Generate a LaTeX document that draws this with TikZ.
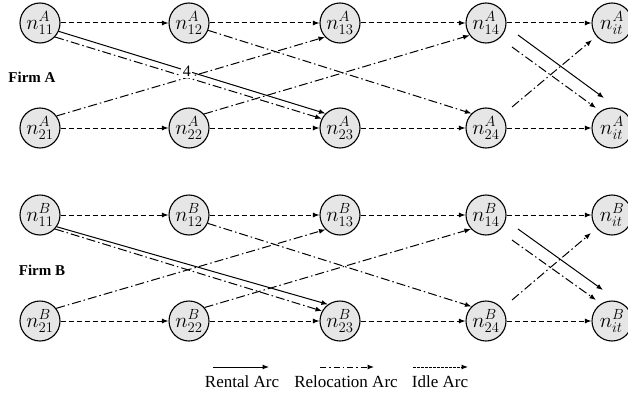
\RequirePackage{fix-cm}
\documentclass[tikz,border=0pt]{standalone}
\usepackage{fontspec}
\setmainfont{Liberation Serif}
\usetikzlibrary{arrows.meta}
\definecolor{nodegray}{HTML}{E6E6E6}
\tikzset{
  state/.style={circle, draw=black, line width=1.1pt, fill=nodegray, minimum size=40pt,
    inner sep=0pt, font=\fontsize{21}{24}\selectfont},
  arc/.style={line width=1pt, -{Latex[length=6.5pt,width=5pt]}},
  rental/.style={arc},
  relocation/.style={arc, dash pattern=on 9pt off 3pt on 1.5pt off 3pt},
  idle/.style={arc, dash pattern=on 5pt off 3pt},
  firm/.style={font=\fontsize{15}{17}\selectfont\bfseries},
  legendtext/.style={font=\fontsize{17}{19}\selectfont},
}
\begin{document}
\begin{tikzpicture}[x=1pt,y=-1pt]
\useasboundingbox (0,0) rectangle (628,396);

% ---------- Firm A ----------
\node[state] (a11) at (40,23)  {$n^A_{11}$};
\node[state] (a12) at (189,23) {$n^A_{12}$};
\node[state] (a13) at (340,23) {$n^A_{13}$};
\node[state] (a14) at (486,23) {$n^A_{14}$};
\node[state] (a1t) at (612,23) {$n^A_{it}$};
\node[state] (a21) at (40,128)  {$n^A_{21}$};
\node[state] (a22) at (189,128) {$n^A_{22}$};
\node[state] (a23) at (340,128) {$n^A_{23}$};
\node[state] (a24) at (486,128) {$n^A_{24}$};
\node[state] (a2t) at (612,128) {$n^A_{it}$};
\node[firm] (firmA) at (32,77) {Firm A};

\draw[idle] (a11) -- (a12);
\draw[idle] (a12) -- (a13);
\draw[idle] (a13) -- (a14);
\draw[idle] (a14) -- (a1t);
\draw[idle] (a21) -- (a22);
\draw[idle] (a22) -- (a23);
\draw[idle] (a23) -- (a24);
\draw[idle] (a24) -- (a2t);

\draw[relocation] (a11.-43) -- (a23.153);
\draw[relocation] (a12.-21) -- (a24.135);
\draw[relocation] (a21.36) -- (a13.-137);
\draw[relocation] (a22.43) -- (a14.-143);
\draw[rental] (a11.-24) -- node[pos=0.48, fill=white, inner sep=1.5pt, font=\fontsize{16}{18}\selectfont] (four) {4} (a23.135);

\coordinate (aRs) at (518,35);  \coordinate (aRe) at (604,98);
\coordinate (aDs) at (512,47);  \coordinate (aDe) at (596,108);
\coordinate (aUs) at (512,107); \coordinate (aUe) at (592,40);
\draw[rental] (aRs) -- (aRe);
\draw[relocation] (aDs) -- (aDe);
\draw[relocation] (aUs) -- (aUe);

% ---------- Firm B ----------
\node[state] (b11) at (40,215)  {$n^B_{11}$};
\node[state] (b12) at (189,215) {$n^B_{12}$};
\node[state] (b13) at (340,215) {$n^B_{13}$};
\node[state] (b14) at (486,215) {$n^B_{14}$};
\node[state] (b1t) at (612,215) {$n^B_{it}$};
\node[state] (b21) at (40,321)  {$n^B_{21}$};
\node[state] (b22) at (189,321) {$n^B_{22}$};
\node[state] (b23) at (340,321) {$n^B_{23}$};
\node[state] (b24) at (486,321) {$n^B_{24}$};
\node[state] (b2t) at (612,321) {$n^B_{it}$};
\node[firm] (firmB) at (42,270) {Firm B};

\draw[idle] (b11) -- (b12);
\draw[idle] (b12) -- (b13);
\draw[idle] (b13) -- (b14);
\draw[idle] (b14) -- (b1t);
\draw[idle] (b21) -- (b22);
\draw[idle] (b22) -- (b23);
\draw[idle] (b23) -- (b24);
\draw[idle] (b24) -- (b2t);

\draw[relocation] (b11.-43) -- (b23.151);
\draw[relocation] (b12.-24) -- (b24.135);
\draw[relocation] (b21.38) -- (b13.-135);
\draw[relocation] (b22.41) -- (b14.-137);
\draw[rental] (b11.-35) -- (b23.126);

\coordinate (bRs) at (518,229); \coordinate (bRe) at (603,290);
\coordinate (bDs) at (512,240); \coordinate (bDe) at (596,300);
\coordinate (bUs) at (512,300); \coordinate (bUe) at (591,233);
\draw[rental] (bRs) -- (bRe);
\draw[relocation] (bDs) -- (bDe);
\draw[relocation] (bUs) -- (bUe);

% ---------- Legend ----------
\coordinate (l1s) at (213,367); \coordinate (l1e) at (269,367);
\coordinate (l2s) at (320,367); \coordinate (l2e) at (374,367);
\coordinate (l3s) at (413,367); \coordinate (l3e) at (468,367);
\draw[rental] (l1s) -- (l1e);
\draw[relocation, dash pattern=on 6pt off 3pt on 1.5pt off 3pt] (l2s) -- (l2e);
\draw[arc, dash pattern=on 2.5pt off 1.5pt] (l3s) -- (l3e);
\node[legendtext] (t1) at (242,382) {Rental Arc};
\node[legendtext] (t2) at (346,382) {Relocation Arc};
\node[legendtext] (t3) at (440,382) {Idle Arc};
\end{tikzpicture}
\end{document}
